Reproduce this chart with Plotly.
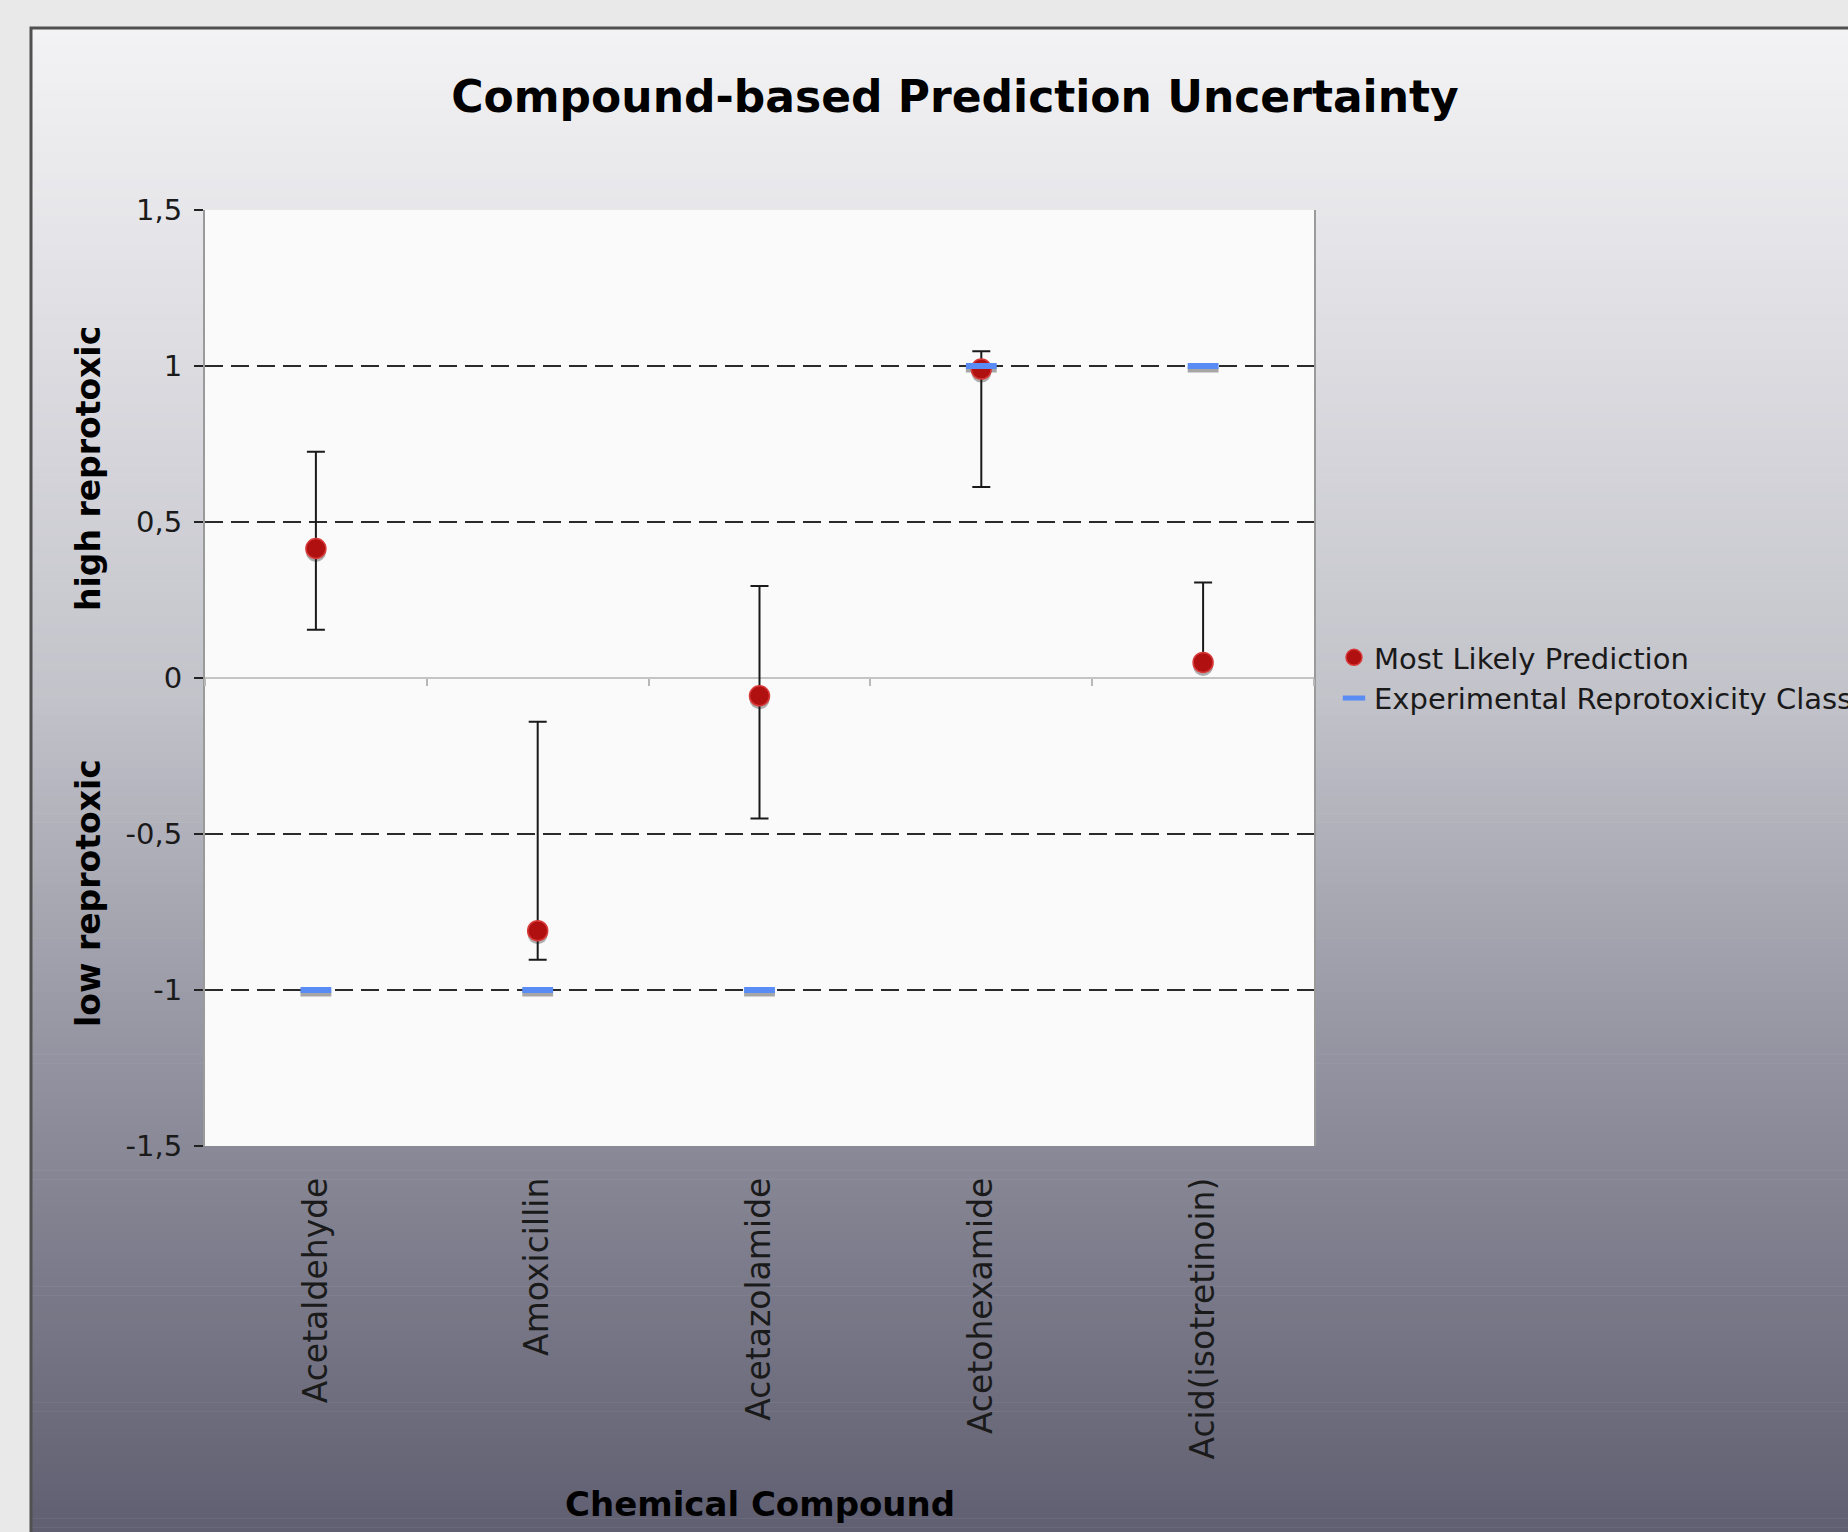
import plotly.graph_objects as go

# ---------------- data ----------------
compounds = ["Acetaldehyde", "Amoxicillin", "Acetazolamide", "Acetohexamide", "Acid(isotretinoin)"]
predicted = [0.415, -0.81, -0.057, 0.99, 0.05]
upper = [0.725, -0.14, 0.295, 1.047, 0.306]
lower = [0.155, -0.903, -0.45, 0.612, 0.035]
experimental = [-1, -1, -1, 1, 1]
y_tickvals = [-1.5, -1, -0.5, 0, 0.5, 1, 1.5]
y_ticktext = ["-1,5", "-1", "-0,5", "0", "0,5", "1", "1,5"]

err_plus = [u - p for u, p in zip(upper, predicted)]
err_minus = [p - l for p, l in zip(predicted, lower)]

W, H = 1848, 1532
ML, MR, MT, MB = 205, 534, 210, 386
PW, PH = W - ML - MR, H - MT - MB
FONT = "DejaVu Sans, Verdana, sans-serif"
SHADOW = 3.5 * 3.0 / PH  # drop-shadow offset of ~3.5 px in data units


def px_x(px):
    return (px - ML) / PW


def px_y(py):
    return (H - MB - py) / PH


# ---------------- background gradient ----------------
stops = [(28, (243, 243, 245)), (250, (228, 228, 232)), (700, (194, 194, 202)),
         (1100, (142, 142, 156)), (1545, (94, 94, 112))]


def col_at(py):
    for (a, ca), (b, cb) in zip(stops[:-1], stops[1:]):
        if a <= py <= b:
            t = (py - a) / (b - a)
            c = [round(ca[k] + (cb[k] - ca[k]) * t) for k in range(3)]
            return "rgb(%d,%d,%d)" % tuple(c)
    return "rgb(%d,%d,%d)" % stops[-1][1]


shapes = []
top, bot, n = 28, 1545, 170
step = (bot - top) / n
for i in range(n):
    y0 = top + i * step
    y1 = y0 + step + 0.6
    shapes.append(dict(type="rect", xref="paper", yref="paper", layer="below",
                       x0=px_x(31), x1=px_x(1870), y0=px_y(y1), y1=px_y(y0),
                       line=dict(width=0), fillcolor=col_at((y0 + y1) / 2)))
shapes.append(dict(type="rect", xref="paper", yref="paper", layer="below",
                   x0=px_x(31), x1=px_x(1870), y0=px_y(1560), y1=px_y(28),
                   line=dict(color="#505050", width=3), fillcolor="rgba(0,0,0,0)"))
shapes.append(dict(type="rect", xref="paper", yref="paper", layer="below",
                   x0=0, x1=1, y0=0, y1=1, line=dict(width=0), fillcolor="#fafafa"))

fig = go.Figure()
# helper trace that carries the zero-line axis (category boundary ticks)
fig.add_trace(go.Scatter(x=compounds, y=experimental, xaxis="x2", mode="markers",
                         marker=dict(opacity=0), showlegend=False, hoverinfo="skip"))
# soft drop shadows
fig.add_trace(go.Scatter(
    x=compounds, y=[p - SHADOW for p in predicted], mode="markers", showlegend=False,
    hoverinfo="skip", marker=dict(color="rgba(110,110,110,0.55)", size=20, line=dict(width=0))))
fig.add_trace(go.Scatter(
    x=compounds, y=[e - SHADOW for e in experimental], mode="markers", showlegend=False,
    hoverinfo="skip", marker=dict(symbol="line-ew", size=22, color="rgba(110,110,110,0.6)",
                                  line=dict(color="rgba(110,110,110,0.6)", width=6))))
fig.add_trace(go.Scatter(
    x=compounds, y=predicted, mode="markers", name="Most Likely Prediction",
    marker=dict(color="#b01010", size=20, line=dict(color="#d83a3a", width=1.5)),
    error_y=dict(type="data", symmetric=False, array=err_plus, arrayminus=err_minus,
                 color="#1a1a1a", thickness=2, width=9),
))
fig.add_trace(go.Scatter(
    x=compounds, y=experimental, mode="markers", name="Experimental Reprotoxicity Class",
    marker=dict(symbol="line-ew", size=22, color="#5a8cf5",
                line=dict(color="#5a8cf5", width=6)),
))

fig.update_layout(
    width=W, height=H,
    margin=dict(l=ML, r=MR, t=MT, b=MB, autoexpand=False),
    paper_bgcolor="#e9e9e9",
    plot_bgcolor="#fafafa",
    font=dict(family=FONT, color="#1a1a1a"),
    shapes=shapes,
    title=dict(text="Compound-based Prediction Uncertainty", xref="container", yref="container",
               x=955 / W, y=1 - 97 / H, xanchor="center", yanchor="middle",
               font=dict(family=FONT, size=44, color="#000", weight="bold")),
    xaxis=dict(type="category", range=[-0.5, 4.5], showline=False, ticks="", showgrid=False,
               zeroline=False, tickangle=-90, tickfont=dict(family=FONT, size=33, color="#1a1a1a"),
               ticklabelstandoff=24),
    xaxis2=dict(overlaying="x", anchor="free", position=0.5, type="category", range=[-0.5, 4.5],
                tickson="boundaries", ticks="outside", ticklen=7, tickwidth=2,
                tickcolor="#b8b8b8", showticklabels=False, showgrid=False, zeroline=False,
                showline=False),
    yaxis=dict(range=[-1.5, 1.5], tickvals=y_tickvals, ticktext=y_ticktext,
               ticks="outside", ticklen=9, tickwidth=2, tickcolor="#222",
               showline=True, linecolor="#9a9a9a", linewidth=2, mirror=True,
               showgrid=True, gridcolor="#2a2a2a", gridwidth=2, griddash="18px,8px",
               zeroline=True, zerolinecolor="#c4c4c4", zerolinewidth=2,
               tickfont=dict(family=FONT, size=29, color="#1a1a1a"), ticklabelstandoff=6),
    legend=dict(x=px_x(1334), y=px_y(632), xanchor="left", yanchor="top",
                bgcolor="rgba(0,0,0,0)", font=dict(family=FONT, size=29, color="#1a1a1a"),
                itemwidth=30, tracegroupgap=0),
    annotations=[
        dict(text="high reprotoxic", xref="paper", yref="paper", x=px_x(88), y=px_y(469),
             textangle=-90, showarrow=False, xanchor="center", yanchor="middle",
             font=dict(family=FONT, size=33, color="#000", weight="bold")),
        dict(text="low reprotoxic", xref="paper", yref="paper", x=px_x(88), y=px_y(893),
             textangle=-90, showarrow=False, xanchor="center", yanchor="middle",
             font=dict(family=FONT, size=33, color="#000", weight="bold")),
        dict(text="Chemical Compound", xref="paper", yref="paper", x=0.5, y=px_y(1504),
             showarrow=False, xanchor="center", yanchor="middle",
             font=dict(family=FONT, size=34, color="#000", weight="bold")),
    ],
)

fig.write_html("out.html",
               config={"displayModeBar": False},
               post_script="document.body.style.margin='0';"
                           "document.body.style.background='#e9e9e9';")
